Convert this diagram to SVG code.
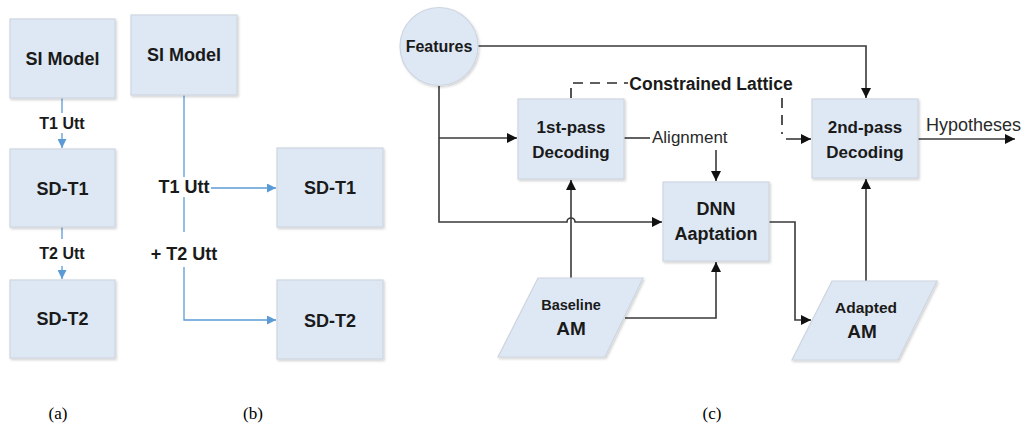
<svg xmlns="http://www.w3.org/2000/svg" width="1025" height="425" viewBox="0 0 1025 425">
  <style>
    .box { fill: #dee8f4; stroke: #cdd5df; stroke-width: 1.2; filter: url(#shadow); }
    .lbl { font-family: "Liberation Sans", Arial, sans-serif; font-weight: bold; fill: #1a1a1a; text-anchor: middle; }
    .reg { font-family: "Liberation Sans", Arial, sans-serif; fill: #2a2a2a; }
    .cap { font-family: "Liberation Serif", "Times New Roman", serif; font-size: 17px; fill: #000; text-anchor: middle; }
    .blue { fill: none; stroke: #5b9bd5; stroke-width: 1.3; }
    .dark { fill: none; stroke: #3a3a3a; stroke-width: 1.6; }
    .dash { fill: none; stroke: #2a2a2a; stroke-width: 1.6; stroke-dasharray: 10 7; }
  </style>
  <defs>
    <filter id="shadow" x="-10%" y="-10%" width="125%" height="125%">
      <feDropShadow dx="1.2" dy="1.5" stdDeviation="1" flood-color="#000" flood-opacity="0.18"/>
    </filter>
    <marker id="ab" viewBox="0 0 10 10" refX="10" refY="5" markerWidth="10" markerHeight="9" markerUnits="userSpaceOnUse" orient="auto">
      <path d="M0,0 L10,5 L0,10 Z" fill="#5b9bd5"/>
    </marker>
    <marker id="ak" viewBox="0 0 10 10" refX="10" refY="5" markerWidth="12" markerHeight="10" markerUnits="userSpaceOnUse" orient="auto">
      <path d="M0,0 L10,5 L0,10 Z" fill="#111"/>
    </marker>
  </defs>

  <!-- connectors -->
  <g id="connectors">
    <!-- (a) -->
    <path class="blue" d="M62,98 V113"/>
    <path class="blue" d="M62,133 V148" marker-end="url(#ab)"/>
    <path class="blue" d="M62,227 V239"/>
    <path class="blue" d="M62,266 V279" marker-end="url(#ab)"/>
    <!-- (b) -->
    <path class="blue" d="M184,95 V177"/>
    <path class="blue" d="M211,188 H276" marker-end="url(#ab)"/>
    <path class="blue" d="M184,197 V232"/>
    <path class="blue" d="M184,267 V320 H276" marker-end="url(#ab)"/>
    <!-- (c) -->
    <path class="dark" d="M478,46 H866 V98" marker-end="url(#ak)"/>
    <path class="dark" d="M439,86 V222 H567 A4,4 0 0 1 575,222 H662" marker-end="url(#ak)"/>
    <path class="dark" d="M439,138 H517" marker-end="url(#ak)"/>
    <path class="dark" d="M624,138 H650"/>
    <path class="dark" d="M716,150 V181" marker-end="url(#ak)"/>
    <path class="dark" d="M571,278 V180" marker-end="url(#ak)"/>
    <path class="dark" d="M625,318 H716 V262" marker-end="url(#ak)"/>
    <path class="dark" d="M769,222 H795 V320 H811" marker-end="url(#ak)"/>
    <path class="dark" d="M866,281 V179" marker-end="url(#ak)"/>
    <path class="dark" d="M918,139 H1015" marker-end="url(#ak)"/>
    <path class="dash" d="M571,98 V83 H628"/>
    <path class="dash" d="M782,98 V134"/>
    <path class="dark" d="M786,139 H811" marker-end="url(#ak)"/>
  </g>

  <!-- edge labels -->
  <g id="edge-labels">
    <text class="lbl" x="62" y="129" font-size="16">T1 Utt</text>
    <text class="lbl" x="62" y="259" font-size="16">T2 Utt</text>
    <text class="lbl" x="184" y="193" font-size="18">T1 Utt</text>
    <text class="lbl" x="184" y="260" font-size="18">+ T2 Utt</text>
    <text class="lbl" x="711" y="90" font-size="17.5">Constrained Lattice</text>
    <text class="reg" x="652" y="143" font-size="17">Alignment</text>
    <text class="reg" x="926" y="131" font-size="18">Hypotheses</text>
  </g>

  <!-- (a) nodes -->
  <g id="a-si-model">
    <rect class="box" x="10" y="19" width="105" height="79"/>
    <text class="lbl" x="62.5" y="65" font-size="18">SI Model</text>
  </g>
  <g id="a-sd-t1">
    <rect class="box" x="10" y="149" width="105" height="78"/>
    <text class="lbl" x="62.5" y="195" font-size="18">SD-T1</text>
  </g>
  <g id="a-sd-t2">
    <rect class="box" x="10" y="280" width="105" height="78"/>
    <text class="lbl" x="62.5" y="325" font-size="18">SD-T2</text>
  </g>

  <!-- (b) nodes -->
  <g id="b-si-model">
    <rect class="box" x="131" y="15" width="106" height="80"/>
    <text class="lbl" x="184" y="61" font-size="18">SI Model</text>
  </g>
  <g id="b-sd-t1">
    <rect class="box" x="277" y="148" width="106" height="79"/>
    <text class="lbl" x="330" y="194" font-size="18">SD-T1</text>
  </g>
  <g id="b-sd-t2">
    <rect class="box" x="277" y="280" width="106" height="79"/>
    <text class="lbl" x="330" y="327" font-size="18">SD-T2</text>
  </g>

  <!-- (c) nodes -->
  <g id="features">
    <circle class="box" cx="439" cy="46.5" r="39"/>
    <text class="lbl" x="439" y="52" font-size="16">Features</text>
  </g>
  <g id="first-pass">
    <rect class="box" x="518" y="99" width="106" height="80"/>
    <text class="lbl" x="571" y="133" font-size="17">1st-pass</text>
    <text class="lbl" x="571" y="158" font-size="17">Decoding</text>
  </g>
  <g id="second-pass">
    <rect class="box" x="812" y="99" width="106" height="79"/>
    <text class="lbl" x="865" y="133" font-size="17">2nd-pass</text>
    <text class="lbl" x="865" y="158" font-size="17">Decoding</text>
  </g>
  <g id="dnn-adaptation">
    <rect class="box" x="663" y="182" width="106" height="79"/>
    <text class="lbl" x="716" y="215" font-size="18">DNN</text>
    <text class="lbl" x="716" y="240" font-size="18">Aaptation</text>
  </g>
  <g id="baseline-am">
    <polygon class="box" points="538,278 643,278 605,357 498,357"/>
    <text class="lbl" x="571" y="310" font-size="14.5">Baseline</text>
    <text class="lbl" x="571" y="335" font-size="19">AM</text>
  </g>
  <g id="adapted-am">
    <polygon class="box" points="832,281 937,281 898,360 792,360"/>
    <text class="lbl" x="866" y="313" font-size="15.5">Adapted</text>
    <text class="lbl" x="862" y="338" font-size="19">AM</text>
  </g>

  <!-- panel captions -->
  <g id="captions">
    <text class="cap" x="58" y="419">(a)</text>
    <text class="cap" x="253" y="419">(b)</text>
    <text class="cap" x="712" y="419">(c)</text>
  </g>
</svg>
